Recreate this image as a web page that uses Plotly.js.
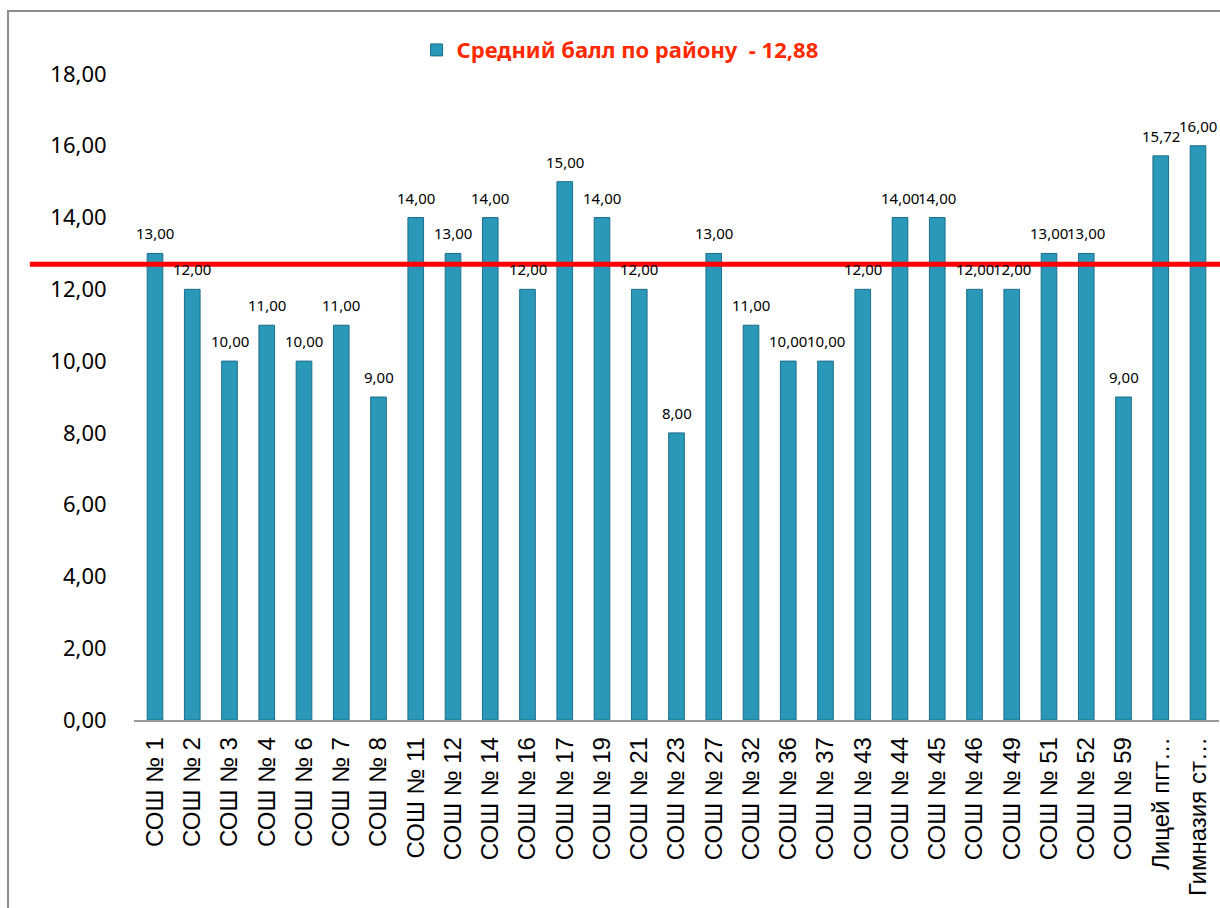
<!DOCTYPE html>
<html>
<head>
<meta charset="utf-8">
<script src="https://cdn.plot.ly/plotly-3.0.1.min.js"></script>
<style>
  html, body { margin: 0; padding: 0; background: #fff; }
  #chart { width: 1220px; height: 908px; }
</style>
</head>
<body>
<div id="chart"></div>
<script>
const schools = [
  "СОШ № 1", "СОШ № 2", "СОШ № 3", "СОШ № 4", "СОШ № 6", "СОШ № 7", "СОШ № 8",
  "СОШ № 11", "СОШ № 12", "СОШ № 14", "СОШ № 16", "СОШ № 17", "СОШ № 19",
  "СОШ № 21", "СОШ № 23", "СОШ № 27", "СОШ № 32", "СОШ № 36", "СОШ № 37",
  "СОШ № 43", "СОШ № 44", "СОШ № 45", "СОШ № 46", "СОШ № 49", "СОШ № 51",
  "СОШ № 52", "СОШ № 59", "Лицей пгт…", "Гимназия ст…"
];
const scores = [
  13, 12, 10, 11, 10, 11, 9,
  14, 13, 14, 12, 15, 14,
  12, 8, 13, 11, 10, 10,
  12, 14, 14, 12, 12, 13,
  13, 9, 15.72, 16
];
const districtLabel = "Средний балл по району  - 12,88";
// where the red line sits in the picture
const districtLine = 12.7;

const bars = {
  type: "bar",
  x: schools,
  y: scores,
  name: districtLabel,
  width: 0.42,
  marker: {
    color: "#2a98b8",
    line: { color: "#1c6e8a", width: 1 }
  },
  showlegend: true,
  hoverinfo: "x+y"
};

// value labels a bit above each bar
const labels = schools.map((s, i) => ({
  x: s,
  y: scores[i],
  xref: "x",
  yref: "y",
  text: scores[i].toFixed(2).replace(".", ","),
  showarrow: false,
  yanchor: "bottom",
  yshift: 8,
  font: { family: "Noto Sans", size: 15, color: "#000" }
}));

const layout = {
  width: 1220,
  height: 908,
  separators: ", ",
  margin: { l: 134, r: 1, t: 74, b: 188 },
  paper_bgcolor: "#fff",
  plot_bgcolor: "#fff",
  showlegend: true,
  legend: {
    x: 0.448, y: 1.037, xanchor: "center", yanchor: "middle",
    font: { family: "Noto Sans", size: 22, color: "#ff2a00", weight: "bold" },
    itemwidth: 30
  },
  xaxis: {
    type: "category",
    tickangle: -90,
    tickfont: { family: "Liberation Sans", size: 24, color: "#000" },
    ticks: "outside",
    ticklen: 6,
    tickcolor: "rgba(0,0,0,0)",
    showline: true,
    linecolor: "#999",
    linewidth: 1.5,
    showgrid: false,
    automargin: false
  },
  yaxis: {
    range: [0, 18],
    dtick: 2,
    tickformat: ".2f",
    tickfont: { family: "Noto Sans", size: 22, color: "#000" },
    ticks: "outside",
    ticklen: 22,
    tickcolor: "rgba(0,0,0,0)",
    showgrid: false,
    zeroline: false,
    showline: false,
    automargin: false
  },
  annotations: labels,
  shapes: [
    {
      type: "rect", xref: "paper", yref: "paper",
      x0: -0.1161, x1: 1.05, y0: -0.4, y1: 1.0975,
      line: { color: "#8c8c8c", width: 2 },
      fillcolor: "rgba(0,0,0,0)",
      layer: "below"
    },
    {
      type: "line", xref: "paper", yref: "y",
      x0: -0.096, x1: 1.01, y0: districtLine, y1: districtLine,
      line: { color: "#ff0000", width: 5 },
      layer: "above"
    }
  ]
};

Plotly.newPlot("chart", [bars], layout, { displayModeBar: false, staticPlot: true });
</script>
</body>
</html>
